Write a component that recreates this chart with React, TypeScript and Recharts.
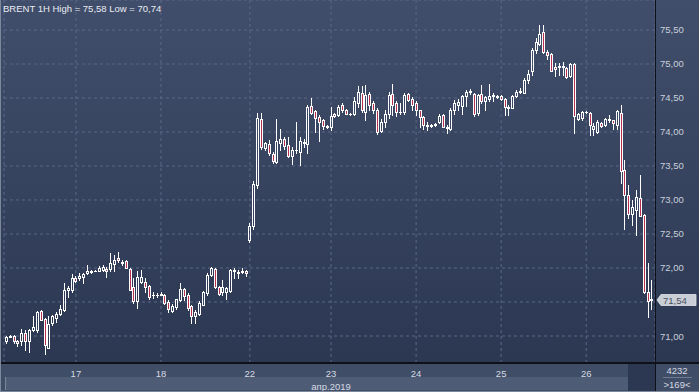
import React from 'react';
import { ComposedChart, Bar, XAxis, YAxis, CartesianGrid, ReferenceLine } from 'recharts';

// BRENT 1H candles, 16..26 Apr 2019
const opens = [
  70.92, 70.99, 71.0, 70.92, 70.92, 71.05, 70.92, 71.09, 71.09, 71.37, 71.25, 70.83, 71.19, 71.26, 71.32, 71.38, 71.68, 71.68,
  71.86, 71.85, 71.87, 71.92, 71.94, 71.96, 71.96, 71.97, 71.98, 71.98, 72.06, 72.14, 72.09, 72.11, 71.98, 71.72, 71.51, 71.8, 71.8, 71.73, 71.6, 71.61,
  71.61, 71.6, 71.5, 71.37, 71.42, 71.53, 71.69, 71.6, 71.44, 71.3, 71.33, 71.46, 71.63, 71.9, 71.99, 71.72, 71.64, 71.65, 71.66, 71.97, 71.94, 71.94, 71.96,
  72.41, 72.62, 73.22, 74.19, 73.76, 73.82, 73.68, 73.56, 73.84, 73.89, 73.81, 73.64, 73.74, 73.71, 73.86, 73.83, 74.38, 74.31, 74.22, 74.17, 74.09,
  74.08, 74.26, 74.25, 74.4, 74.32, 74.27, 74.27, 74.42, 74.57, 74.3, 74.56, 74.43, 74.32, 74.02, 74.15, 74.27, 74.56, 74.42, 74.29, 74.3, 74.56, 74.48,
  74.43, 74.32, 74.22, 74.1, 74.09, 74.11, 74.15, 74.25, 74.07, 74.05, 74.33, 74.4, 74.38, 74.53, 74.6, 74.56, 74.28, 74.56, 74.46, 74.48, 74.54, 74.52,
  74.53, 74.49, 74.37, 74.36, 74.53, 74.59, 74.58, 74.76, 74.89, 75.21, 75.3, 75.47, 75.18, 75.15, 74.95, 74.96, 74.96, 74.94, 74.82, 75.0, 74.19, 74.2,
  74.29, 74.28, 74.04, 74.0, 74.13, 74.1, 74.18, 74.17, 74.1, 74.28, 73.44, 73.07, 72.8, 72.86, 73.03, 72.78, 71.65, 71.53,
];
const highs = [
  71.0, 71.01, 71.02, 70.94, 71.1, 71.09, 71.11, 71.29, 71.37, 71.38, 71.26, 71.3, 71.31, 71.36, 71.46, 71.78, 71.73, 71.91,
  71.88, 71.92, 71.92, 72.04, 71.97, 71.97, 72.03, 72.04, 72.02, 72.22, 72.19, 72.24, 72.12, 72.12, 72.0, 71.85, 71.95, 71.97, 71.85, 71.75, 71.64, 71.63,
  71.64, 71.62, 71.53, 71.47, 71.55, 71.78, 71.7, 71.63, 71.46, 71.38, 71.51, 71.66, 71.92, 72.02, 72.0, 71.74, 71.82, 71.72, 71.98, 72.0, 71.97, 72.0, 71.97,
  72.66, 73.28, 74.28, 74.28, 73.86, 73.88, 73.7, 74.19, 74.05, 73.93, 73.92, 73.78, 74.15, 73.93, 73.9, 74.4, 74.5, 74.32, 74.25, 74.19, 74.11,
  74.37, 74.28, 74.4, 74.42, 74.34, 74.28, 74.51, 74.68, 74.67, 74.69, 74.59, 74.45, 74.35, 74.19, 74.32, 74.59, 74.71, 74.45, 74.43, 74.58, 74.57, 74.52,
  74.46, 74.33, 74.23, 74.14, 74.12, 74.13, 74.26, 74.26, 74.1, 74.35, 74.47, 74.49, 74.54, 74.62, 74.63, 74.57, 74.56, 74.69, 74.53, 74.71, 74.57, 74.55,
  74.54, 74.5, 74.39, 74.55, 74.62, 74.64, 74.79, 74.91, 75.23, 75.38, 75.57, 75.58, 75.21, 75.16, 75.01, 75.02, 75.03, 74.96, 75.01, 75.01, 74.28, 74.31,
  74.31, 74.3, 74.13, 74.18, 74.14, 74.2, 74.25, 74.18, 74.33, 74.4, 73.59, 73.22, 73.0, 73.15, 73.37, 72.8, 72.07, 71.82,
];
const lows = [
  70.9, 70.98, 70.9, 70.85, 70.87, 70.8, 70.77, 71.08, 71.06, 71.23, 70.74, 70.82, 71.16, 71.21, 71.31, 71.37, 71.58, 71.65,
  71.8, 71.83, 71.78, 71.91, 71.93, 71.95, 71.95, 71.96, 71.87, 71.96, 71.95, 72.09, 72.05, 72.0, 71.67, 71.48, 71.41, 71.78, 71.64, 71.55, 71.56, 71.58,
  71.6, 71.47, 71.35, 71.35, 71.4, 71.51, 71.53, 71.38, 71.19, 71.19, 71.31, 71.45, 71.6, 71.88, 71.7, 71.6, 71.6, 71.55, 71.64, 71.85, 71.86, 71.92, 71.88,
  72.38, 72.58, 73.18, 73.75, 73.74, 73.66, 73.55, 73.54, 73.74, 73.75, 73.63, 73.53, 73.69, 73.52, 73.78, 73.69, 74.27, 74.0, 73.87, 74.05, 74.06,
  74.03, 74.22, 74.23, 74.3, 74.26, 74.25, 74.25, 74.37, 74.3, 74.18, 74.32, 74.28, 73.97, 74.0, 74.08, 74.2, 74.25, 74.23, 74.27, 74.27, 74.45, 74.32,
  74.25, 74.08, 74.04, 74.03, 74.07, 74.09, 74.13, 74.07, 73.99, 74.03, 74.27, 74.32, 74.27, 74.38, 74.56, 74.24, 74.25, 74.42, 74.32, 74.45, 74.45, 74.5,
  74.47, 74.25, 74.25, 74.35, 74.51, 74.58, 74.57, 74.72, 74.84, 75.16, 75.28, 75.16, 75.07, 74.89, 74.82, 74.84, 74.84, 74.8, 74.81, 73.98, 74.17, 74.18,
  74.28, 73.96, 73.96, 73.98, 74.08, 74.09, 74.15, 74.04, 74.05, 73.25, 72.58, 72.73, 72.63, 72.49, 72.76, 71.63, 71.28, 71.39,
];
const closes = [
  70.98, 71.0, 70.92, 70.9, 71.04, 70.93, 71.09, 71.13, 71.36, 71.24, 70.87, 71.18, 71.29, 71.33, 71.39, 71.68, 71.7, 71.85,
  71.81, 71.88, 71.91, 71.96, 71.96, 71.96, 72.0, 72.01, 71.96, 72.07, 72.12, 72.12, 72.07, 72.0, 71.68, 71.51, 71.87, 71.87, 71.72, 71.57, 71.61, 71.6,
  71.62, 71.49, 71.39, 71.44, 71.54, 71.69, 71.59, 71.41, 71.29, 71.36, 71.49, 71.64, 71.9, 72.0, 71.72, 71.62, 71.72, 71.71, 71.97, 71.95, 71.93, 71.96, 71.93,
  72.62, 73.24, 74.21, 73.78, 73.84, 73.69, 73.58, 73.87, 73.89, 73.79, 73.64, 73.73, 73.73, 73.87, 73.84, 74.37, 74.28, 74.2, 74.15, 74.09, 74.08,
  74.23, 74.24, 74.37, 74.32, 74.27, 74.27, 74.45, 74.59, 74.32, 74.54, 74.4, 74.33, 74.0, 74.15, 74.27, 74.54, 74.4, 74.29, 74.3, 74.55, 74.47, 74.4,
  74.32, 74.22, 74.1, 74.09, 74.11, 74.12, 74.24, 74.08, 74.06, 74.33, 74.43, 74.44, 74.53, 74.59, 74.59, 74.27, 74.54, 74.46, 74.51, 74.53, 74.53, 74.53,
  74.49, 74.37, 74.36, 74.53, 74.59, 74.6, 74.77, 74.86, 75.21, 75.33, 75.44, 75.18, 75.13, 74.9, 74.93, 74.97, 74.97, 74.81, 75.0, 74.23, 74.26, 74.29,
  74.3, 74.1, 74.09, 74.15, 74.09, 74.19, 74.19, 74.13, 74.31, 73.42, 73.07, 72.8, 72.89, 73.05, 72.77, 71.64, 71.52, 71.54,
];

// first hourly bar of each day
const dayLabels = ['17', '18', '22', '23', '24', '25', '26'];
const dayStartIdx = [18, 40, 63, 84, 106, 128, 150];
const monthLabel = 'апр.2019';
const monthLabelIdx = 84;

const priceTicks = [71, 71.5, 72, 72.5, 73, 73.5, 74, 74.5, 75, 75.5];
const lastPrice = 71.54;
const titleText = 'BRENT 1H High = 75,58 Low = 70,74';
const volumeText = '4232';
const barsText = '>169<';

const FONT = '"Liberation Sans", Arial, sans-serif';
const UP_FILL = 'none';
const DOWN_FILL = '#b8304f';

const data = opens.map((o, i) => ({
  i,
  open: o,
  high: highs[i],
  low: lows[i],
  close: closes[i],
  range: [lows[i], highs[i]],
}));

const fmt = (v: number) => v.toFixed(2).replace('.', ',');

function Candle(props: any) {
  const { x, y, width, height, payload } = props;
  if (x == null || y == null || !payload) return null;
  const top = Math.min(y, y + height);
  const bottom = Math.max(y, y + height);
  const span = payload.high - payload.low;
  const toY = (p: number) => (span > 0 ? top + ((payload.high - p) / span) * (bottom - top) : top);
  const cx = Math.round(x + width / 2) + 0.5;
  const up = payload.close >= payload.open;
  const hiY = Math.round(toY(payload.high));
  const loY = Math.round(toY(payload.low)) + 1;
  const bTop = Math.round(toY(Math.max(payload.open, payload.close))) + 0.5;
  const bBot = Math.round(toY(Math.min(payload.open, payload.close))) + 0.5;
  return (
    <g>
      <line x1={cx} x2={cx} y1={hiY} y2={bTop} stroke="#fff" strokeWidth={1} />
      <line x1={cx} x2={cx} y1={bBot} y2={loY} stroke="#fff" strokeWidth={1} />
      {bBot - bTop < 1 ? (
        <line x1={cx - 1.5} x2={cx + 1.5} y1={bTop} y2={bTop} stroke="#fff" strokeWidth={1} />
      ) : (
        <rect x={cx - 1} y={bTop} width={2} height={bBot - bTop} fill={up ? UP_FILL : DOWN_FILL} stroke="#fff" strokeWidth={1} />
      )}
    </g>
  );
}

function DayTick(props: any) {
  const { x, y, payload } = props;
  const k = dayStartIdx.indexOf(payload.value);
  return (
    <g>
      <text x={x} y={y + 12} textAnchor="middle" fill="#d4dae4" fontSize={9.5} fontFamily={FONT}>
        {k >= 0 ? dayLabels[k] : ''}
      </text>
      {payload.value === monthLabelIdx && (
        <text x={x} y={y + 24.5} textAnchor="middle" fill="#d4dae4" fontSize={9.5} fontFamily={FONT}>
          {monthLabel}
        </text>
      )}
    </g>
  );
}

function PriceTick(props: any) {
  const { x, y, payload } = props;
  // the last-price tag sits on top of the nearest level
  if (Math.abs(payload.value - lastPrice) < 0.1) return null;
  return (
    <text x={x + 3} y={y + 3.5} fill="#c8d0dc" fontSize={9.5} fontFamily={FONT}>
      {fmt(payload.value)}
    </text>
  );
}

function PriceTag(props: any) {
  const vb = props.viewBox;
  if (!vb) return null;
  const x0 = vb.x + vb.width + 2;
  const yM = Math.round(vb.y) + 1;
  return (
    <g>
      <path
        d={`M${x0} ${yM} L${x0 + 4} ${yM - 5.5} L${x0 + 39} ${yM - 5.5} L${x0 + 39} ${yM + 5.5} L${x0 + 4} ${yM + 5.5} Z`}
        fill="#c9cdd5"
        stroke="#e1e4ea"
        strokeWidth={0.8}
      />
      <text x={x0 + 6} y={yM + 3.5} fill="#4b5263" fontSize={9.5} fontFamily={FONT}>
        {fmt(lastPrice)}
      </text>
    </g>
  );
}

export default function App() {
  const abs = (s: React.CSSProperties): React.CSSProperties => ({ position: 'absolute', ...s });
  return (
    <div style={{ position: 'absolute', left: 0, top: 0, width: 699, height: 392, overflow: 'hidden' }}>
      {/* backgrounds */}
      <div style={abs({ left: 0, top: 0, width: 699, height: 363, background: 'linear-gradient(180deg, #414e6b 0%, #2c3852 100%)' })} />
      <div style={abs({ left: 0, top: 363, width: 699, height: 29, background: '#404d66' })} />
      <div style={abs({ left: 5, top: 377, width: 623, height: 13, background: '#4f5c76', borderLeft: '1px solid #7a869c' })} />
      <div style={abs({ left: 628, top: 364, width: 27, height: 28, background: '#2c3851' })} />

      <div style={abs({ left: 0, top: 0 })}>
        <ComposedChart width={699} height={392} data={data} margin={{ top: 0, right: 0, bottom: 0, left: 4 }}>
          <CartesianGrid stroke="#5a6886" strokeDasharray="3 3" />
          <XAxis
            type="number"
            dataKey="i"
            domain={[-0.6, 167.8]}
            ticks={dayStartIdx}
            interval={0}
            allowDataOverflow
            height={29}
            axisLine={false}
            tickLine={false}
            tickSize={0}
            tick={<DayTick />}
          />
          <YAxis
            orientation="right"
            type="number"
            domain={[70.603, 75.941]}
            ticks={priceTicks}
            interval={0}
            allowDataOverflow
            width={44}
            axisLine={false}
            tickLine={false}
            tickSize={0}
            tick={<PriceTick />}
          />
          <Bar dataKey="range" barSize={3} shape={<Candle />} isAnimationActive={false} />
          <ReferenceLine y={lastPrice} stroke="none" label={<PriceTag />} />
        </ComposedChart>
      </div>

      <svg width={699} height={392} style={abs({ left: 0, top: 0, pointerEvents: 'none' })}>
        {/* frame lines */}
        <rect x={0} y={362} width={699} height={2} fill="#0e1119" />
        <rect x={655} y={0} width={1} height={392} fill="#0e1119" />
        <rect x={0} y={0} width={1} height={392} fill="#7d889c" />
        <rect x={0} y={391} width={699} height={1} fill="#7d889c" />
        <text x={3} y={11.5} fill="#e8ecf2" fontSize={9.5} fontFamily={FONT}>
          {titleText}
        </text>
        <text x={677} y={374} textAnchor="middle" fill="#d4dae4" fontSize={9.5} fontFamily={FONT}>
          {volumeText}
        </text>
        <line x1={663} x2={692} y1={377.5} y2={377.5} stroke="#6f7b92" strokeWidth={1} />
        <text x={677} y={387.5} textAnchor="middle" fill="#d4dae4" fontSize={9.5} fontFamily={FONT}>
          {barsText}
        </text>
      </svg>
    </div>
  );
}
